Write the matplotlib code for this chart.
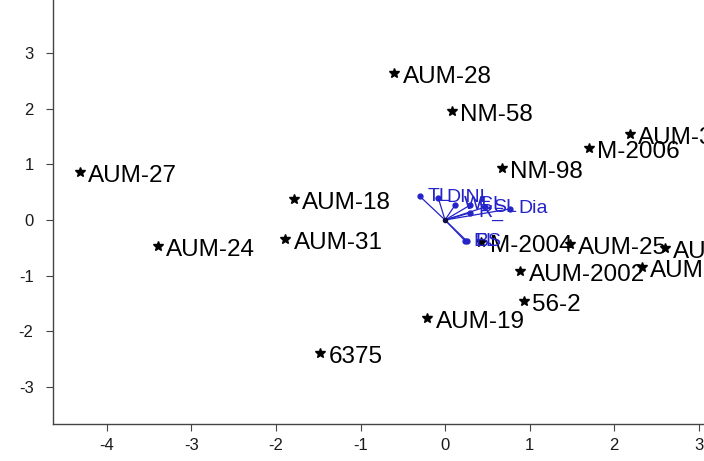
import numpy as np
import matplotlib
matplotlib.use("Agg")
import matplotlib.pyplot as plt

plt.rcParams["axes.unicode_minus"] = False

# sample scores (PC1, PC2)
sample_names = ["AUM-27", "AUM-24", "AUM-31", "AUM-18", "6375", "AUM-28",
                "NM-58", "NM-98", "AUM-19", "56-2", "AUM-2002", "M-2004",
                "AUM-25", "AUM-21", "AUM-22", "M-2006", "AUM-30"]
pc1 = [-4.32, -3.40, -1.89, -1.79, -1.48, -0.60,
       0.08, 0.67, -0.21, 0.93, 0.89, 0.43,
       1.48, 2.33, 2.60, 1.70, 2.19]
pc2 = [0.86, -0.47, -0.34, 0.38, -2.39, 2.64,
       1.96, 0.94, -1.76, -1.46, -0.92, -0.40,
       -0.43, -0.85, -0.50, 1.30, 1.55]

# variable loadings (arrow tips)
var_names = ["TL", "DINL", "WL", "CL", "SL", "Dia", "R_", "EL", "BS"]
load1 = [-0.30, -0.08, 0.12, 0.30, 0.47, 0.77, 0.30, 0.24, 0.26]
load2 = [0.43, 0.40, 0.27, 0.27, 0.23, 0.20, 0.13, -0.38, -0.38]

xticks = [-4, -3, -2, -1, 0, 1, 2, 3]
yticks = [-3, -2, -1, 0, 1, 2, 3]

blue = "#2424c8"

fig = plt.figure(figsize=(7.04, 4.61), dpi=100)
ax = fig.add_axes([53 / 704, 37 / 461, 651 / 704, 424 / 461])
ax.set_xlim(-4.639, 3.065)
ax.set_ylim(-3.669, 3.957)

for s in ["top", "right"]:
    ax.spines[s].set_visible(False)
for s in ["left", "bottom"]:
    ax.spines[s].set_color("#444444")
    ax.spines[s].set_linewidth(1.0)

ax.set_xticks(xticks)
ax.set_yticks(yticks)
ax.set_xticklabels([str(t) for t in xticks], family="Liberation Sans")
ax.set_yticklabels([str(t) for t in yticks], family="Liberation Sans")
ax.tick_params(axis="both", length=5, width=0.8, color="#444444",
               labelsize=12, labelcolor="#1a1a1a")
ax.tick_params(axis="y", pad=9)
ax.tick_params(axis="x", pad=5)

# samples: star + label
ax.plot(pc1, pc2, linestyle="none", marker="*", markersize=7.5,
        color="black", zorder=3)
for name, x, y in zip(sample_names, pc1, pc2):
    ax.annotate(name, (x, y), xytext=(6, -3), textcoords="offset points",
                ha="left", va="center", fontsize=17.5,
                family="Liberation Sans", color="black", zorder=3,
                annotation_clip=False)

# variable arrows
for name, x, y in zip(var_names, load1, load2):
    ax.plot([0, x], [0, y], color=blue, linewidth=0.9, zorder=4)
ax.plot(load1, load2, linestyle="none", marker="o", markersize=3.5,
        color=blue, zorder=5)
ax.plot([0], [0], marker="o", markersize=3, color="#101040", zorder=5)
for name, x, y in zip(var_names, load1, load2):
    ax.annotate(name, (x, y), xytext=(6, 0), textcoords="offset points",
                ha="left", va="center", fontsize=14,
                family="Liberation Sans", color=blue, zorder=6)

fig.savefig("out.png", dpi=100)
